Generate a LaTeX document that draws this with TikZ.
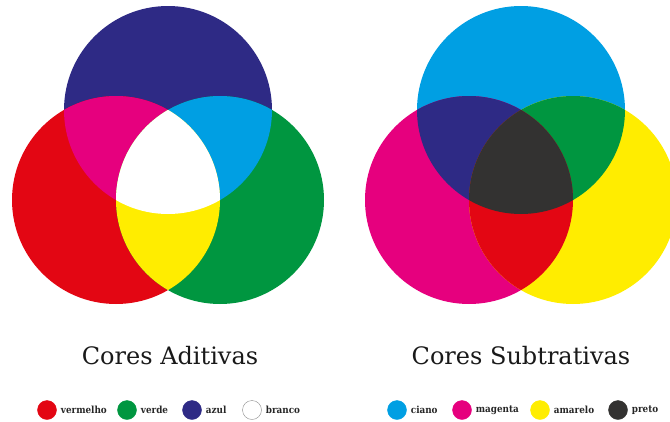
\documentclass[tikz,border=0pt]{standalone}
\usepackage{fontspec}
\setmainfont{DejaVu Serif}
\newfontfamily\legendafont{DejaVu Serif Condensed}
\usetikzlibrary{positioning}

\definecolor{vermelho}{HTML}{E30613}
\definecolor{verde}{HTML}{009640}
\definecolor{azul}{HTML}{2E2A85}
\definecolor{ciano}{HTML}{009FE3}
\definecolor{magenta}{HTML}{E6007E}
\definecolor{amarelo}{HTML}{FFED00}
\definecolor{preto}{HTML}{333231}

\begin{document}
\begin{tikzpicture}
  [x=1pt,y=-1pt,every node/.style={inner sep=0pt},
   dot/.style={circle,minimum size=19pt},
   legenda/.style={font=\legendafont\bfseries\fontsize{9.8}{11}\selectfont,text=black!85},
   titulo/.style={font=\fontsize{24}{28}\selectfont,text=black!90}]
  \useasboundingbox (0,0) rectangle (670,421);

  % centros dos circulos
  \coordinate (b) at (168,110);
  \coordinate (r) at (116,200);
  \coordinate (g) at (220,200);
  \coordinate (c) at (521,110);
  \coordinate (m) at (469,200);
  \coordinate (y) at (573,200);
  \def\raio{104}

  % cores aditivas
  \fill[azul] (b) circle (\raio);
  \fill[vermelho] (r) circle (\raio);
  \fill[verde] (g) circle (\raio);
  \foreach \a/\b/\col in {b/r/magenta,b/g/ciano,r/g/amarelo}
  {
    \begin{scope}
      \clip (\a) circle (\raio);
      \fill[\col] (\b) circle (\raio);
    \end{scope}
  }
  \begin{scope}
    \clip (b) circle (\raio);
    \clip (r) circle (\raio);
    \fill[white] (g) circle (\raio);
  \end{scope}

  % cores subtrativas
  \fill[ciano] (c) circle (\raio);
  \fill[magenta] (m) circle (\raio);
  \fill[amarelo] (y) circle (\raio);
  \foreach \a/\b/\col in {c/m/azul,c/y/verde,m/y/vermelho}
  {
    \begin{scope}
      \clip (\a) circle (\raio);
      \fill[\col] (\b) circle (\raio);
    \end{scope}
  }
  \begin{scope}
    \clip (c) circle (\raio);
    \clip (m) circle (\raio);
    \fill[preto] (y) circle (\raio);
  \end{scope}

  \node[titulo] (aditivas) at (170,356) {Cores Aditivas};
  \node[titulo] (subtrativas) at (521,356) {Cores Subtrativas};

  % legendas
  \foreach \cor/\borda/\txt/\x [count=\i] in
    {vermelho/vermelho/vermelho/47, verde/verde/verde/127,
     azul/azul/azul/192, white/black!45/branco/252,
     ciano/ciano/ciano/397, magenta/magenta/magenta/462,
     amarelo/amarelo/amarelo/540, preto/preto/preto/618}
  {
    \node[dot,fill=\cor,draw=\borda] (dot\i) at (\x,410) {};
    \node[legenda,right=4pt of dot\i] (lab\i) {\txt};
  }
\end{tikzpicture}
\end{document}
